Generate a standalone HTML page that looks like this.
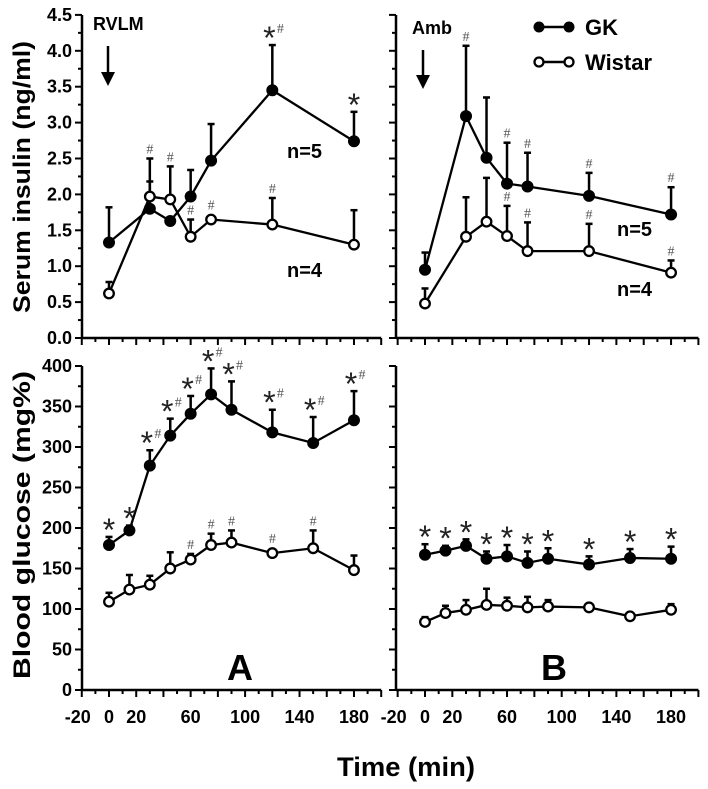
<!DOCTYPE html>
<html><head><meta charset="utf-8"><style>
body{margin:0;background:#fff;}
svg{display:block;font-family:"Liberation Sans",Arial,sans-serif;}
</style></head><body>
<svg id="chart" width="708" height="789" viewBox="0 0 708 789" xmlns="http://www.w3.org/2000/svg"></svg>
<script>
// ---- data ----
const timesTopA = [0,30,45,60,75,120,180];
const gkInsA = [1.33,1.80,1.63,1.97,2.47,3.45,2.74];
const gkInsAErr = [1.82,2.18,1.63,2.34,2.98,4.08,3.15];
const wsInsA = [0.62,1.97,1.93,1.41,1.65,1.58,1.30];
const wsInsAErr = [0.78,2.50,2.39,1.65,1.65,1.95,1.78];
const gkInsAMark = ["","","","","","*#","*"];
const wsInsAMark = ["","#","#","#","#","#",""];

const timesTopB = [0,30,45,60,75,120,180];
const gkInsB = [0.95,3.09,2.51,2.15,2.11,1.98,1.72];
const gkInsBErr = [1.19,4.07,3.35,2.72,2.58,2.30,2.10];
const wsInsB = [0.48,1.41,1.62,1.42,1.21,1.21,0.91];
const wsInsBErr = [0.69,1.96,2.23,1.84,1.61,1.59,1.08];
const gkInsBMark = ["","#","","#","#","#","#"];
const wsInsBMark = ["","","","#","#","#","#"];

const timesBot = [0,15,30,45,60,75,90,120,150,180];
const gkGluA = [179,197,277,314,341,365,346,318,305,333];
const gkGluAErr = [189,203,296,335,363,397,381,346,337,369];
const wsGluA = [109,124,130,150,161,179,182,169,175,148];
const wsGluAErr = [120,142,141,170,168,193,197,172,197,166];
const gkGluAMark = ["*","*","*#","*#","*#","*#","*#","*#","*#","*#"];
const wsGluAMark = ["","","","","#","#","#","#","#",""];

const gkGluB = [167,172,178,162,165,157,162,155,163,162];
const gkGluBErr = [180,178,186,171,179,171,175,165,174,177];
const wsGluB = [84,95,99,105,104,102,103,102,91,99];
const wsGluBErr = [90,104,111,125,114,115,111,102,91,106];
const gkGluBMark = ["*","*","*","*","*","*","*","*","*","*"];
const wsGluBMark = ["","","","","","","","","",""];

const xTickLabels = [-20,0,20,60,100,140,180];
const insTicks = ["0.0","0.5","1.0","1.5","2.0","2.5","3.0","3.5","4.0","4.5"];
const gluTicks = [0,50,100,150,200,250,300,350,400];

// ---- scales ----
const svg = document.getElementById('chart');
const NS = "http://www.w3.org/2000/svg";
function mk(tag, attrs, parent){const e=document.createElementNS(NS,tag);for(const k in attrs)e.setAttribute(k,attrs[k]);(parent||svg).appendChild(e);return e;}
const xA = t => 109 + 1.361*t;
const xB = t => 425 + 1.367*t;
const yIns = v => 338 - 71.8*v;
const yGlu = v => 690 - 0.81*v;

function axes(xf, axisX, yf, yTop, yBot, ticks, showY, showX, name){
  const g = mk('g',{});
  
  
  mk('line',{x1:axisX,y1:yTop,x2:axisX,y2:yBot,stroke:'#000','stroke-width':2.5},g);
  mk('line',{x1:axisX,y1:yBot,x2:xf(200),y2:yBot,stroke:'#000','stroke-width':2.5},g);
  for(let t=-20;t<=200;t+=10){
    const big = (t%20===0);
    mk('line',{x1:xf(t),y1:yBot,x2:xf(t),y2:yBot+(big?7:4),stroke:'#000','stroke-width':2},g);
  }
  for(let i=0;i<ticks.length;i++){
    const v=parseFloat(ticks[i]);
    const y=yf(v);
    mk('line',{x1:axisX-7,y1:y,x2:axisX,y2:y,stroke:'#000','stroke-width':2},g);
    if(i<ticks.length-1){const vm=(v+parseFloat(ticks[i+1]))/2;mk('line',{x1:axisX-4,y1:yf(vm),x2:axisX,y2:yf(vm),stroke:'#000','stroke-width':2},g);}
    if(showY){const tx=mk('text',{x:axisX-10,y:y+6,'text-anchor':'end','font-size':18,'font-weight':'bold'},g);tx.textContent=ticks[i];
      
      }
  }
  if(showX){
    for(const t of xTickLabels){const tx=mk('text',{x:xf(t)+(t===-20?-4:0),y:yBot+33,'text-anchor':'middle','font-size':18,'font-weight':'bold'},g);tx.textContent=t;
      
      }
  }
}

function series(xf, yf, times, vals, errs, marks, filled, name){
  const g = mk('g',{});
  
  
  let d='';
  times.forEach((t,i)=>{d+=(i?'L':'M')+xf(t)+' '+yf(vals[i]);});
  for(let i=0;i<times.length;i++){
    const x=xf(times[i]);
    if(errs[i]>vals[i]){
      mk('line',{x1:x,y1:yf(vals[i]),x2:x,y2:yf(errs[i]),stroke:'#000','stroke-width':2.5},g);
      mk('line',{x1:x-3.5,y1:yf(errs[i]),x2:x+3.5,y2:yf(errs[i]),stroke:'#000','stroke-width':2.5},g);
    }
  }
  mk('path',{d:d,fill:'none',stroke:'#000','stroke-width':2.3},g);
  for(let i=0;i<times.length;i++){
    const c=mk('circle',{cx:xf(times[i]),cy:yf(vals[i]),r:filled?5.5:4.8,fill:filled?'#000':'#fff',stroke:'#000','stroke-width':filled?1:2.3},g);
    
    
    const m=marks[i];
    if(m){
      const top=Math.min(yf(errs[i]),yf(vals[i])-5);
      let x=xf(times[i]);
      if(m.includes('*')){
        const s=mk('text',{x:x-(m.length>1?3:0),y:top+4,'text-anchor':'middle','font-size':32,fill:'#222'},g);s.textContent='*';
        
        
      }
      if(m.includes('#')){
        const h=mk('text',{x:x+(m.length>1?8:0),y:top-(m.length>1?12:5),'text-anchor':'middle','font-size':14,fill:'#555','font-family':'Liberation Serif, serif'},g);h.textContent='#';
        
        
      }
    }
  }
}

axes(xA,82,yIns,15,338,insTicks,true,false,'panel-a-insulin-axes');
axes(xB,396,yIns,15,338,insTicks,false,false,'panel-b-insulin-axes');
axes(xA,82,yGlu,366,690,gluTicks.map(String),true,true,'panel-a-glucose-axes');
axes(xB,396,yGlu,366,690,gluTicks.map(String),false,true,'panel-b-glucose-axes');

series(xA,yIns,timesTopA,gkInsA,gkInsAErr,gkInsAMark,true,'gk-insulin-a');
series(xA,yIns,timesTopA,wsInsA,wsInsAErr,wsInsAMark,false,'wistar-insulin-a');
series(xB,yIns,timesTopB,gkInsB,gkInsBErr,gkInsBMark,true,'gk-insulin-b');
series(xB,yIns,timesTopB,wsInsB,wsInsBErr,wsInsBMark,false,'wistar-insulin-b');
series(xA,yGlu,timesBot,gkGluA,gkGluAErr,gkGluAMark,true,'gk-glucose-a');
series(xA,yGlu,timesBot,wsGluA,wsGluAErr,wsGluAMark,false,'wistar-glucose-a');
series(xB,yGlu,timesBot,gkGluB,gkGluBErr,gkGluBMark,true,'gk-glucose-b');
series(xB,yGlu,timesBot,wsGluB,wsGluBErr,wsGluBMark,false,'wistar-glucose-b');
</script>
<svg style="position:absolute;left:0;top:0" width="708" height="789" font-family="Liberation Sans, Arial, sans-serif">
  <text transform="translate(30,177) rotate(-90)" text-anchor="middle" font-size="24" font-weight="bold" textLength="272" lengthAdjust="spacingAndGlyphs">Serum insulin (ng/ml)</text>
  <text transform="translate(30,525) rotate(-90)" text-anchor="middle" font-size="24" font-weight="bold" textLength="308" lengthAdjust="spacingAndGlyphs">Blood glucose (mg%)</text>
  <text x="406" y="776" text-anchor="middle" font-size="27" font-weight="bold" textLength="138" lengthAdjust="spacingAndGlyphs">Time (min)</text>
  <text x="240" y="680" text-anchor="middle" font-size="36" font-weight="bold">A</text>
  <text x="554" y="680" text-anchor="middle" font-size="36" font-weight="bold">B</text>
  <text x="93" y="30" font-size="18" font-weight="bold">RVLM</text>
  <text x="412" y="34" font-size="18" font-weight="bold">Amb</text>
  <g><line x1="108" y1="46" x2="108" y2="74" stroke="#000" stroke-width="2.5"/><polygon points="101,72 115,72 108,86" fill="#000"/></g>
  <g><line x1="423" y1="50" x2="423" y2="77" stroke="#000" stroke-width="2.5"/><polygon points="416,75 430,75 423,89" fill="#000"/></g>
  <g><line x1="539" y1="27" x2="569" y2="27" stroke="#000" stroke-width="2.5"/><circle cx="539" cy="27" r="5.5"/><circle cx="569" cy="27" r="5.5"/><text x="585" y="35" font-size="22" font-weight="bold">GK</text></g>
  <g><line x1="539" y1="62" x2="569" y2="62" stroke="#000" stroke-width="2.5"/><circle cx="539" cy="62" r="4.5" fill="#fff" stroke="#000" stroke-width="2.3"/><circle cx="569" cy="62" r="4.5" fill="#fff" stroke="#000" stroke-width="2.3"/><text x="585" y="70" font-size="22" font-weight="bold">Wistar</text></g>
  <text x="287" y="158" font-size="20" font-weight="bold">n=5</text>
  <text x="287" y="277" font-size="20" font-weight="bold">n=4</text>
  <text x="617" y="236" font-size="20" font-weight="bold">n=5</text>
  <text x="617" y="296" font-size="20" font-weight="bold">n=4</text>
</svg>
</body></html>
